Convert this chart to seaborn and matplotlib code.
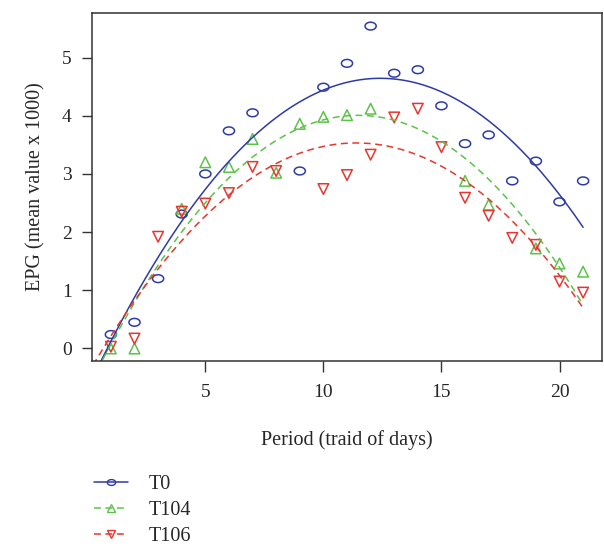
import numpy as np
import pandas as pd
import matplotlib
matplotlib.use("Agg")
import matplotlib.pyplot as plt
from matplotlib.path import Path
from matplotlib.lines import Line2D
import seaborn as sns

# ---- data ----
period = list(range(1, 22))
t0 = [0.24, 0.45, 1.20, 2.31, 3.00, 3.74, 4.05, np.nan, 3.05, 4.49, 4.90,
      5.54, 4.73, 4.79, 4.17, 3.52, 3.67, 2.88, 3.22, 2.52, 2.88]
t104 = [0.00, 0.00, np.nan, 2.40, 3.20, 3.12, 3.60, 3.02, 3.86, 3.98, 4.01,
        4.12, np.nan, np.nan, np.nan, 2.88, 2.47, np.nan, 1.72, 1.46, 1.32]
t106 = [0.03, 0.17, 1.92, 2.35, 2.49, 2.67, 3.12, 3.05, np.nan, 2.74, 2.98,
        3.33, 3.97, 4.12, 3.46, 2.59, 2.28, 1.90, 1.78, 1.15, 0.96]
series_names = ["T0", "T104", "T106"]
x_ticks = [5, 10, 15, 20]
y_ticks = [0, 1, 2, 3, 4, 5]
x_label = "Period (traid of days)"
y_label = "EPG (mean value x 1000)"
fit_degree = 2

# ---- style ----
sns.set_style("white")
plt.rcParams["font.family"] = ["Liberation Serif", "DejaVu Serif"]

colors = {"T0": "#2E3BA6", "T104": "#5CC24A", "T106": "#E8352F"}
styles = {"T0": "-", "T104": (0, (4.5, 3)), "T106": (0, (4.5, 3))}

t = np.linspace(0, 2 * np.pi, 64)
ellipse = Path(np.c_[np.cos(t), 0.70 * np.sin(t)], closed=True)
markers = {"T0": ellipse, "T104": "^", "T106": "v"}
sizes = {"T0": 64, "T104": 58, "T106": 58}

df = pd.DataFrame({"period": period, "T0": t0, "T104": t104, "T106": t106})

fig = plt.figure(figsize=(6.04, 5.46), dpi=100)
ax = fig.add_axes([92 / 604, 1 - 361 / 546, 510 / 604, 348 / 546])

grid = np.linspace(0.0, 21.0, 300)
for name in series_names:
    sub = df[["period", name]].dropna()
    coef = np.polyfit(sub["period"], sub[name], fit_degree)
    fit = np.polyval(coef, grid)
    sns.lineplot(x=grid, y=fit, ax=ax, color=colors[name], linewidth=1.1,
                 linestyle=styles[name], sort=False)
for name in series_names:
    sub = df[["period", name]].dropna()
    sns.scatterplot(x=sub["period"], y=sub[name], ax=ax, marker=markers[name],
                    s=sizes[name], facecolor="none", edgecolor=colors[name],
                    linewidth=1.1)

ax.set_xlim(0.2, 21.8)
ax.set_ylim(-0.215, 5.765)
ax.set_xticks(x_ticks)
ax.set_yticks(y_ticks)
ax.tick_params(axis="x", direction="out", length=8, width=1.0,
               color="#333333", labelsize=14, pad=8.5, bottom=True)
ax.tick_params(axis="y", direction="out", length=7.5, width=1.0,
               color="#333333", labelsize=14, pad=7, left=True)
for sp in ax.spines.values():
    sp.set_color("#333333")
    sp.set_linewidth(1.1)
ax.set_xlabel(x_label, fontsize=14.5, labelpad=21)
ax.set_ylabel(y_label, fontsize=14.5, labelpad=12)

handles = [Line2D([], [], color=colors[n], linestyle=styles[n], linewidth=1.1,
                  marker=markers[n], markersize=6, markerfacecolor="none",
                  markeredgecolor=colors[n]) for n in series_names]
fig.legend(handles, series_names, loc="upper left",
           bbox_to_anchor=(86 / 604, 1 - 467 / 546), frameon=False,
           fontsize=14.5, handlelength=1.7, handletextpad=1.0,
           labelspacing=0.34, borderaxespad=0)

fig.savefig("out.png", dpi=100)
